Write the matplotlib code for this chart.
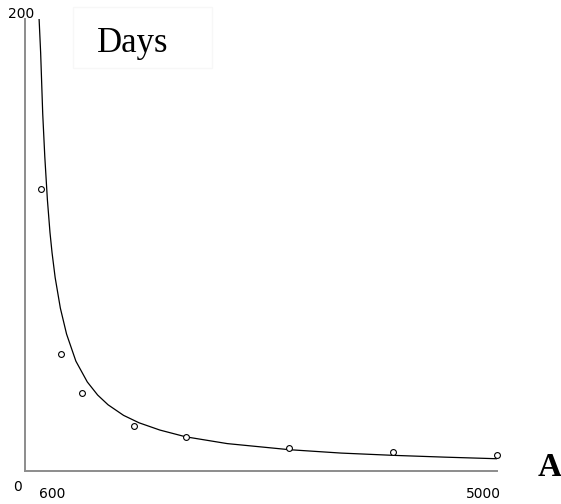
import matplotlib.pyplot as plt
from matplotlib.patches import Rectangle

# measured points
x_pts = [600, 800, 1000, 1500, 2000, 3000, 4000, 5000]
y_pts = [124.6, 51.6, 34.4, 19.9, 14.8, 10.0, 8.1, 6.9]

# fitted curve
x_fit = [585, 600, 620, 640, 665, 690, 710, 740, 790, 850, 940, 1050, 1150,
         1250, 1400, 1550, 1750, 2000, 2400, 3000, 3500, 4000, 4500, 5002]
y_fit = [200, 185, 158, 139, 120, 105.5, 96.5, 85.5, 72, 60.5, 48.5, 39.3, 33.5,
         29.2, 24.5, 21.2, 18, 15, 12, 9.3, 7.8, 6.8, 6.0, 5.3]

fig = plt.figure(figsize=(5.61, 5.04), dpi=100)
ax = fig.add_axes([25 / 561, 1 - 470.7 / 504, 472 / 561, 451.7 / 504])

ax.plot(x_fit, y_fit, color='black', lw=0.9)
ax.plot(x_pts, y_pts, 'o', ms=4.2, mfc='white', mec='black', mew=0.8, clip_on=False)

ax.set_xlim(449, 5003)
ax.set_ylim(0, 200)
ax.set_xticks([])
ax.set_yticks([])
for s in ['top', 'right']:
    ax.spines[s].set_visible(False)
for s in ['left', 'bottom']:
    ax.spines[s].set_color('#8c8c8c')
    ax.spines[s].set_linewidth(1.4)

# faint box behind the title
fig.patches.append(Rectangle((73 / 561, 1 - 68 / 504), 139 / 561, 61 / 504,
                             transform=fig.transFigure, facecolor='white',
                             edgecolor='#f7f7f7', lw=1, zorder=5))

# labels
fig.text(21 / 561, 1 - 14 / 504, '200', ha='center', va='center', fontsize=10)
fig.text(17 / 561, 1 - 487 / 504, '0', ha='center', va='center', fontsize=10)
fig.text(52 / 561, 1 - 494 / 504, '600', ha='center', va='center', fontsize=10)
fig.text(483 / 561, 1 - 494 / 504, '5000', ha='center', va='center', fontsize=10)
fig.text(550 / 561, 1 - 467 / 504, 'A', ha='center', va='center', fontsize=24,
         fontweight='bold', family='Liberation Serif')
fig.text(133 / 561, 1 - 43 / 504, 'Days', ha='center', va='center', fontsize=25,
         family='Liberation Serif', zorder=6)

fig.savefig('out.png', dpi=100)
